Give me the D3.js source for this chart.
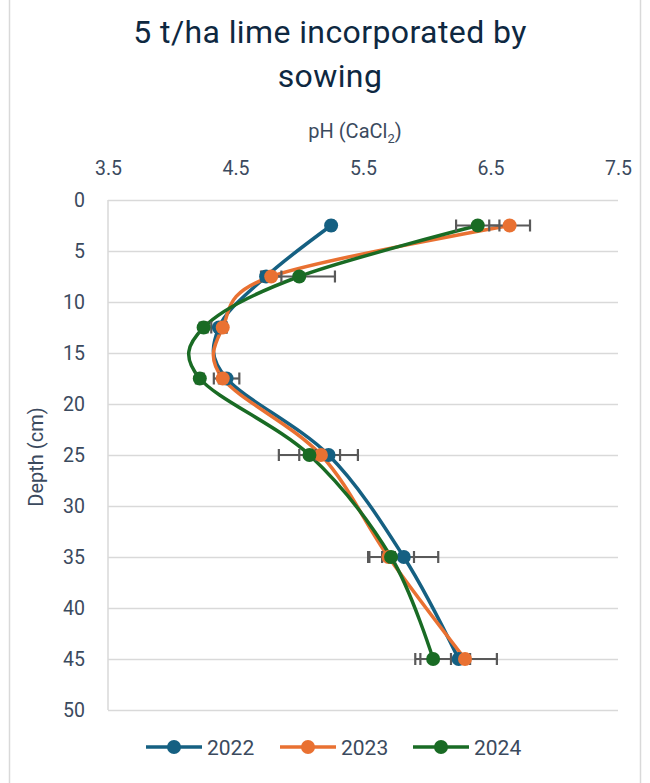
<!DOCTYPE html>
<html>
<head>
<meta charset="utf-8">
<script src="https://cdn.jsdelivr.net/npm/d3@7/dist/d3.min.js"></script>
<style>
  html, body { margin: 0; padding: 0; background: #fff; }
  svg { display: block; }
</style>
</head>
<body>
<svg id="chart" width="650" height="783"></svg>
<script>
// ---- data ----
const depths = [2.5, 7.5, 12.5, 17.5, 25, 35, 45];
const years = ["2022", "2023", "2024"];
const ph2022 = [5.25, 4.74, 4.37, 4.43, 5.23, 5.82, 6.25];
const ph2023 = [6.65, 4.78, 4.40, 4.40, 5.17, 5.70, 6.30];
const ph2024 = [6.40, 5.00, 4.25, 4.22, 5.08, 5.72, 6.05];
const err2022 = [0.02, 0.03, 0.06, 0.10, 0.23, 0.27, 0.30];
const err2023 = [0.16, 0.08, 0.03, 0.03, 0.04, 0.05, 0.04];
const err2024 = [0.17, 0.28, 0.03, 0.03, 0.24, 0.18, 0.14];
const xTicks = [3.5, 4.5, 5.5, 6.5, 7.5];
const yTicks = [0, 5, 10, 15, 20, 25, 30, 35, 40, 45, 50];
const colors = ["#156082", "#E97132", "#196B24"];

const series = [
  { name: years[0], ph: ph2022, err: err2022, color: colors[0] },
  { name: years[1], ph: ph2023, err: err2023, color: colors[1] },
  { name: years[2], ph: ph2024, err: err2024, color: colors[2] }
];

const svg = d3.select("#chart");
const font = "Roboto, 'Open Sans', sans-serif";
const textCol = "#3b4a5e";
const gridCol = "#d9d9d9";

// frame
svg.append("line").attr("x1", 9.5).attr("x2", 9.5).attr("y1", 0).attr("y2", 783)
  .attr("stroke", gridCol).attr("stroke-width", 1.5);
svg.append("line").attr("x1", 640.5).attr("x2", 640.5).attr("y1", 0).attr("y2", 783)
  .attr("stroke", gridCol).attr("stroke-width", 1.5);

const x = d3.scaleLinear().domain([3.5, 7.5]).range([108, 618]);
const y = d3.scaleLinear().domain([0, 50]).range([200, 710]);

// title
const title = svg.append("text").attr("text-anchor", "middle")
  .attr("font-family", font).attr("font-size", 32).attr("letter-spacing", 0.4).attr("fill", "#0E2841");
title.append("tspan").attr("x", 330).attr("y", 43).text("5 t/ha lime incorporated by");
title.append("tspan").attr("x", 330).attr("y", 87).text("sowing");

// x axis title
const xt = svg.append("text").attr("text-anchor", "middle").attr("x", 355).attr("y", 138)
  .attr("font-family", font).attr("font-size", 20).attr("fill", textCol);
xt.append("tspan").text("pH (CaCl");
xt.append("tspan").attr("font-size", 13).attr("dy", 5).text("2");
xt.append("tspan").attr("dy", -5).text(")");

// y axis title
svg.append("text").attr("text-anchor", "middle")
  .attr("transform", "translate(43,457) rotate(-90)")
  .attr("font-family", font).attr("font-size", 20).attr("fill", textCol)
  .text("Depth (cm)");

// gridlines
const gy = svg.append("g").attr("transform", "translate(108,0)")
  .call(d3.axisLeft(y).tickValues(yTicks).tickSize(-(618 - 108)).tickPadding(23).tickFormat(d3.format("d")));
gy.select(".domain").remove();
gy.selectAll(".tick line").attr("stroke", gridCol).attr("stroke-width", 1.5);
gy.selectAll(".tick text").attr("font-family", font).attr("font-size", 19.5).attr("fill", textCol);

// left axis line
svg.append("line").attr("x1", 108).attr("x2", 108).attr("y1", y(0)).attr("y2", y(50))
  .attr("stroke", gridCol).attr("stroke-width", 1.5);

// top x axis
const gx = svg.append("g").attr("transform", `translate(0,${y(0)})`)
  .call(d3.axisTop(x).tickValues(xTicks).tickSize(0).tickPadding(25).tickFormat(d3.format(".1f")));
gx.select(".domain").remove();
gx.selectAll(".tick text").attr("font-family", font).attr("font-size", 19.5).attr("fill", textCol);

// lines
const line = d3.line()
  .x(d => x(d[0])).y(d => y(d[1]))
  .curve(d3.curveCatmullRom.alpha(0));

series.forEach(s => {
  const pts = s.ph.map((v, i) => [v, depths[i]]);
  svg.append("path").datum(pts).attr("d", line)
    .attr("fill", "none").attr("stroke", s.color).attr("stroke-width", 3.5)
    .attr("stroke-linejoin", "round").attr("stroke-linecap", "round");
});

// error bars
const eb = svg.append("g").attr("stroke", "#595959").attr("stroke-width", 2.2).attr("fill", "none");
series.forEach(s => {
  s.ph.forEach((v, i) => {
    const e = s.err[i];
    const yy = y(depths[i]);
    const x1 = x(v - e), x2 = x(v + e);
    eb.append("line").attr("x1", x1).attr("x2", x2).attr("y1", yy).attr("y2", yy);
    eb.append("line").attr("x1", x1).attr("x2", x1).attr("y1", yy - 6).attr("y2", yy + 6);
    eb.append("line").attr("x1", x2).attr("x2", x2).attr("y1", yy - 6).attr("y2", yy + 6);
  });
});

// markers
series.forEach(s => {
  svg.append("g").selectAll("circle").data(s.ph).join("circle")
    .attr("cx", d => x(d)).attr("cy", (d, i) => y(depths[i]))
    .attr("r", 7).attr("fill", s.color);
});

// legend
const legX = [146, 280, 413];
series.forEach((s, i) => {
  const g = svg.append("g").attr("transform", `translate(${legX[i]},747)`);
  g.append("line").attr("x1", 0).attr("x2", 56).attr("y1", 0).attr("y2", 0)
    .attr("stroke", s.color).attr("stroke-width", 3.5);
  g.append("circle").attr("cx", 28).attr("cy", 0).attr("r", 7).attr("fill", s.color);
  g.append("text").attr("x", 61).attr("y", 0).attr("dy", "0.36em")
    .attr("font-family", font).attr("font-size", 21).attr("fill", textCol).text(s.name);
});
</script>
</body>
</html>
